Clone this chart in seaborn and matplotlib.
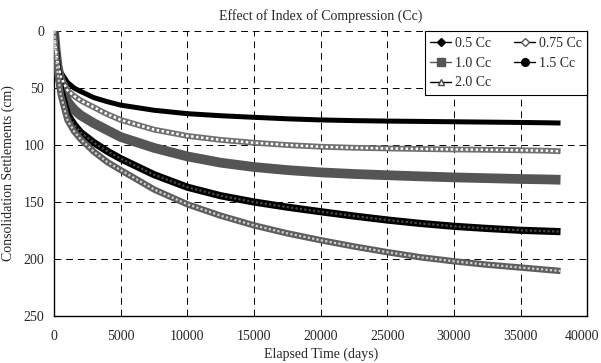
import numpy as np
import pandas as pd
import seaborn as sns
import matplotlib.pyplot as plt
from matplotlib.lines import Line2D
from matplotlib.ticker import MultipleLocator, FuncFormatter

# elapsed time (days) and settlements (cm)
days = [0, 100, 250, 500, 1000, 1500, 2000, 3000, 4000, 5000, 7500, 10000,
        12500, 15000, 17500, 20000, 22500, 25000, 27500, 30000, 32500, 35000,
        37000, 38000]

cc_050 = [0, 12, 25, 36, 45, 50, 53, 58.5, 62, 65, 69.5, 72.5,
          74.3, 75.7, 77, 78, 78.6, 79, 79.3, 79.6, 79.9, 80.2, 80.5, 80.7]
cc_075 = [0, 13, 27, 40, 52, 57, 61, 67, 73, 78, 86.5, 92,
          95.5, 98, 100, 101.5, 102.4, 103, 103.5, 103.9, 104.2, 104.6, 105, 105.5]
cc_100 = [0, 14, 30, 45, 62, 69, 74, 81, 87, 93, 102.5, 110,
          115.5, 119.3, 122, 124, 125.4, 126.5, 127.5, 128.4, 129.1, 129.8, 130.2, 130.5]
cc_150 = [0, 15, 33, 52, 73, 82, 89, 98, 105.5, 112, 126, 137,
          144.5, 150, 154.5, 158.5, 162.3, 165.8, 168.8, 171.3, 173.2, 174.8, 175.6, 176]
cc_200 = [0, 16, 35, 56, 78, 88, 95, 106, 115, 122, 139, 152,
          162, 170.5, 177.5, 183.5, 189, 194, 198.5, 202, 205, 207.5, 209.5, 210.5]

labels = ["0.5 Cc", "0.75 Cc", "1.0 Cc", "1.5 Cc", "2.0 Cc"]
series = [cc_050, cc_075, cc_100, cc_150, cc_200]

sns.set_style("white")
plt.rcParams['font.family'] = ['Liberation Serif', 'DejaVu Serif']
plt.rcParams['font.size'] = 10

fig = plt.figure(figsize=(6.01, 3.63), dpi=100)
ax = fig.add_axes([0.09, 0.1295, 0.887, 0.785])

# band style per series: (outer colour, outer width, inner colour, inner width)
styles = {
    "0.5 Cc": ("black", 3.6, None, 0),
    "0.75 Cc": ("#707070", 4.2, "white", 1.8),
    "1.0 Cc": ("#555555", 7.0, None, 0),
    "1.5 Cc": ("black", 5.2, "#4a4a4a", 1.6),
    "2.0 Cc": ("#5e5e5e", 4.6, "#d0d0d0", 1.6),
}

for lab, vals in zip(labels, series):
    outer, ow, inner, iw = styles[lab]
    sns.lineplot(x=days, y=vals, ax=ax, color=outer, linewidth=ow,
                 solid_capstyle='butt', zorder=3)
    if inner:
        sns.lineplot(x=days, y=vals, ax=ax, color=inner, linewidth=iw,
                     linestyle=(0, (1, 1)), zorder=4)

ax.set_xlim(0, 40000)
ax.set_ylim(250, 0)
ax.xaxis.set_major_locator(MultipleLocator(5000))
ax.xaxis.set_minor_locator(MultipleLocator(1000))
ax.yaxis.set_major_locator(MultipleLocator(50))
# last x label is placed by hand so it stays inside the figure
ax.xaxis.set_major_formatter(FuncFormatter(lambda v, p: "" if v >= 40000 else f"{v:.0f}"))

ax.grid(True, which='major', color='black', linestyle=(0, (7, 5)), linewidth=0.7)
ax.set_axisbelow(True)
ax.tick_params(axis='x', which='major', direction='in', length=5, width=0.8, pad=10)
ax.tick_params(axis='x', which='minor', direction='in', length=3, width=0.8)
ax.tick_params(axis='y', which='major', direction='in', length=0, pad=7)

ax.annotate("40000", xy=(1, 0), xycoords='axes fraction', xytext=(9, -10),
            textcoords='offset points', ha='right', va='top', fontsize=10)

for side in ['left', 'bottom', 'right']:
    ax.spines[side].set_visible(True)
    ax.spines[side].set_color('black')
    ax.spines[side].set_linewidth(1.0)
ax.spines['top'].set_visible(False)

ax.set_xlabel("Elapsed Time (days)", labelpad=3)
ax.set_ylabel("Consolidation Settlements (cm)", labelpad=6)
ax.set_title("Effect of Index of Compression (Cc)", fontsize=10, pad=8)

# legend
handles = {
    "0.5 Cc": Line2D([], [], color='black', lw=1, marker='D', ms=4,
                     markerfacecolor='black', markeredgecolor='black'),
    "0.75 Cc": Line2D([], [], color='black', lw=1, marker='D', ms=4,
                      markerfacecolor='white', markeredgecolor='#555555'),
    "1.0 Cc": Line2D([], [], color='#555555', lw=1, marker='s', ms=6,
                     markerfacecolor='#555555', markeredgecolor='#555555'),
    "1.5 Cc": Line2D([], [], color='black', lw=1, marker='o', ms=5.5,
                     markerfacecolor='black', markeredgecolor='black'),
    "2.0 Cc": Line2D([], [], color='black', lw=1, marker='^', ms=4.5,
                     markerfacecolor='white', markeredgecolor='#444444'),
}
order = ["0.5 Cc", "1.0 Cc", "2.0 Cc", "0.75 Cc", "1.5 Cc"]
leg = ax.legend([handles[k] for k in order], order, ncol=2, loc='upper right',
                borderaxespad=0, fancybox=False, framealpha=1, edgecolor='black',
                handlelength=1.5, handletextpad=0.25, columnspacing=1.7,
                labelspacing=0.5, borderpad=0.4, fontsize=10)
leg.get_frame().set_linewidth(0.8)
leg.set_zorder(10)

fig.savefig("out.png", dpi=100)
